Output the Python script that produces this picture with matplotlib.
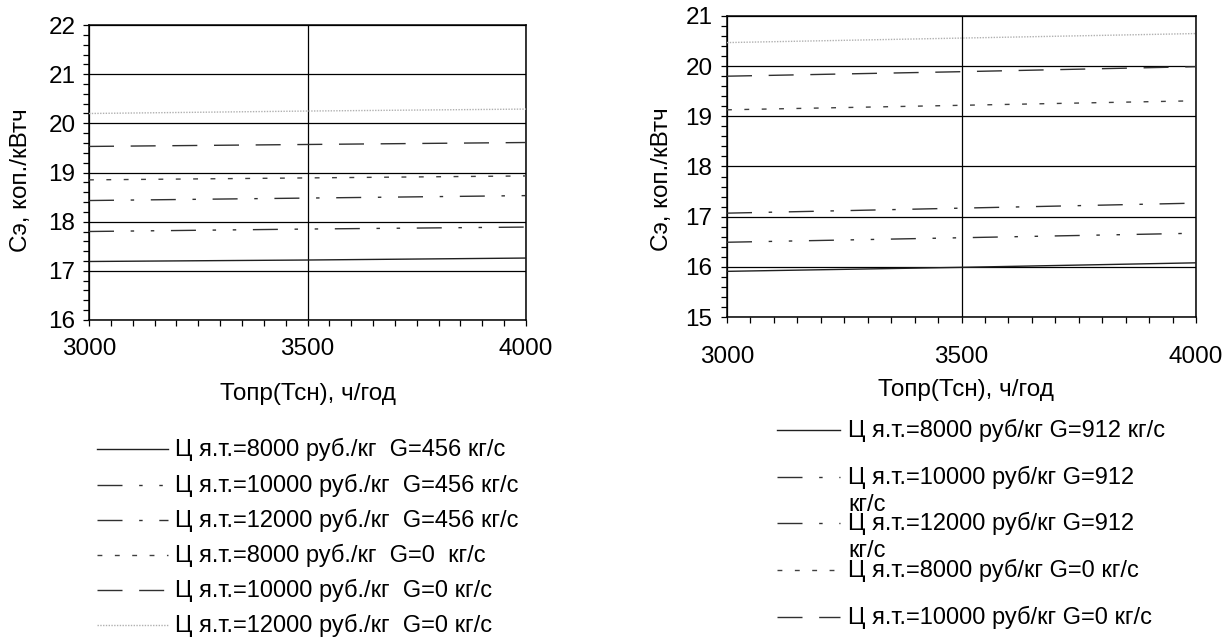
import matplotlib
matplotlib.use('Agg')
import matplotlib.pyplot as plt
from matplotlib.lines import Line2D
from matplotlib.ticker import MultipleLocator

plt.rcParams['font.family'] = ['Liberation Sans', 'DejaVu Sans']

# ---------------- data ----------------
x_hours = [3000, 3500, 4000]

# left chart: G = 456 кг/с and G = 0
left_8000_456 = [17.19, 17.22, 17.26]
left_10000_456 = [17.80, 17.85, 17.89]
left_12000_456 = [18.43, 18.48, 18.53]
left_8000_0 = [18.85, 18.89, 18.93]
left_10000_0 = [19.53, 19.57, 19.61]
left_12000_0 = [20.20, 20.25, 20.29]

# right chart: G = 912 кг/с and G = 0
right_8000_912 = [15.91, 15.99, 16.08]
right_10000_912 = [16.49, 16.58, 16.67]
right_12000_912 = [17.07, 17.17, 17.27]
right_8000_0 = [19.13, 19.22, 19.31]
right_10000_0 = [19.80, 19.89, 19.99]
right_12000_0 = [20.47, 20.56, 20.65]

left_labels = [
    "Ц я.т.=8000 руб./кг  G=456 кг/с",
    "Ц я.т.=10000 руб./кг  G=456 кг/с",
    "Ц я.т.=12000 руб./кг  G=456 кг/с",
    "Ц я.т.=8000 руб./кг  G=0  кг/с",
    "Ц я.т.=10000 руб./кг  G=0 кг/с",
    "Ц я.т.=12000 руб./кг  G=0 кг/с",
]
right_labels = [
    "Ц я.т.=8000 руб/кг G=912 кг/с",
    "Ц я.т.=10000 руб/кг G=912\nкг/с",
    "Ц я.т.=12000 руб/кг G=912\nкг/с",
    "Ц я.т.=8000 руб/кг G=0 кг/с",
    "Ц я.т.=10000 руб/кг G=0 кг/с",
    "Ц я.т.=12000 руб/кг G=0 кг/с",
]
x_ticks = [3000, 3500, 4000]
y_label = "Сэ, коп./кВтч"
x_label = "Топр(Тсн), ч/год"

# ---------------- styles ----------------
styles = [
    dict(color='#202020', linestyle='-'),
    dict(color='#303030', linestyle=(0, (18, 12, 2.5, 12, 2.5, 12))),
    dict(color='#303030', linestyle=(0, (18, 12, 2.5, 12))),
    dict(color='#404040', linestyle=(0, (3.5, 9))),
    dict(color='#303030', linestyle=(0, (18, 12))),
    dict(color='#b0b0b0', linestyle=(0, (1, 1))),
]

FS = 17.5
LFS = 17

W, H = 1223, 638
fig = plt.figure(figsize=(W / 100, H / 100), dpi=100)


def px_axes(x0, y0, x1, y1):
    return fig.add_axes([x0 / W, 1 - y1 / H, (x1 - x0) / W, (y1 - y0) / H])


def setup(ax, ylo, yhi, xpad, ypad):
    ax.set_xlim(3000, 4000)
    ax.set_ylim(ylo, yhi)
    ax.set_xticks(x_ticks)
    ax.xaxis.set_minor_locator(MultipleLocator(50))
    ax.yaxis.set_major_locator(MultipleLocator(1))
    ax.yaxis.set_minor_locator(MultipleLocator(0.2))
    ax.grid(True, which='major', color='black', linewidth=0.9, zorder=1)
    ax.set_axisbelow(True)
    ax.tick_params(which='both', direction='out', length=4.3, width=0.9,
                   color='black', labelsize=FS)
    ax.tick_params(axis='x', which='both', pad=xpad)
    ax.tick_params(axis='y', which='both', pad=ypad)
    for s in ax.spines.values():
        s.set_linewidth(1.1)
        s.set_color('black')


def legend(rows_y, line_x0, line_x1, text_x, labels, n, fs):
    for i in range(n):
        st = styles[i]
        y = rows_y[i]
        fig.add_artist(Line2D([line_x0 / W, line_x1 / W], [1 - y / H, 1 - y / H],
                              transform=fig.transFigure, linewidth=1.0, **st))
        for k, line in enumerate(labels[i].split('\n')):
            fig.text(text_x / W, 1 - (y + k * 28) / H, line, fontsize=fs,
                     ha='left', va='center')


# ---------------- left chart ----------------
axL = px_axes(89, 25, 526, 320)
setup(axL, 16, 22, xpad=8.5, ypad=5.5)
left_series = [left_8000_456, left_10000_456, left_12000_456,
               left_8000_0, left_10000_0, left_12000_0]
for vals, st in zip(left_series, styles):
    axL.plot(x_hours, vals, linewidth=1.0, zorder=3, **st)
axL.set_ylabel(y_label, fontsize=FS)
axL.yaxis.set_label_coords(-0.156, 0.475)
axL.set_xlabel(x_label, fontsize=FS)
axL.xaxis.set_label_coords(0.5, -(394 - 320) / 295)
axL.xaxis.label.set_va('center')
axL.yaxis.label.set_va('center')

legend([449, 485, 520, 555, 590, 625], 97, 168, 175, left_labels, 6, LFS)

# ---------------- right chart ----------------
axR = px_axes(727, 16, 1196, 317)
setup(axR, 15, 21, xpad=16.5, ypad=6.2)
right_series = [right_8000_912, right_10000_912, right_12000_912,
                right_8000_0, right_10000_0, right_12000_0]
for vals, st in zip(right_series, styles):
    axR.plot(x_hours, vals, linewidth=1.0, zorder=3, **st)
axR.set_ylabel(y_label, fontsize=FS)
axR.yaxis.set_label_coords(-0.139, 0.458)
axR.set_xlabel(x_label, fontsize=FS)
axR.xaxis.set_label_coords((966 - 727) / 469, -(390 - 317) / 301)
axR.xaxis.label.set_va('center')
axR.yaxis.label.set_va('center')

legend([430, 477, 523, 570, 617], 777, 840, 848, right_labels, 5, LFS)

fig.savefig('out.png', dpi=100)
